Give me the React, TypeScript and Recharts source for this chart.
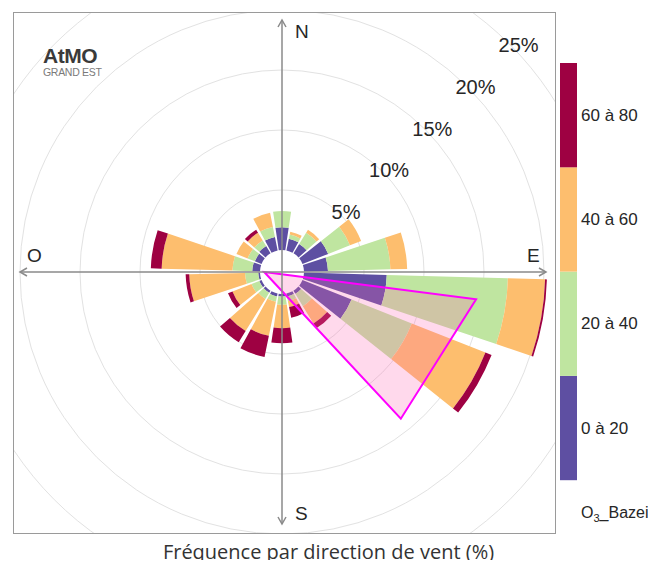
import {
  RadialBarChart,
  RadialBar,
  PolarGrid,
  PolarAngleAxis,
  PolarRadiusAxis,
} from "recharts";

// wind directions (degrees from north, clockwise), 20° sectors
const directions = [0, 20, 40, 60, 80, 100, 120, 140, 160, 180, 200, 220, 240, 260, 280, 300, 320, 340];

// frequency (%) per direction and O3 class
const o3_0_20 = [1.9, 1.0, 0.9, 2.3, 2.0, 6.9, 4.4, 0.3, 0.25, 0.2, 0.25, 0.2, 0.2, 0.15, 0.65, 0.6, 0.7, 1.15];
const o3_20_40 = [1.35, 0.35, 1.1, 1.95, 5.2, 10.1, 5.4, 1.2, 0.4, 0.7, 0.45, 0.6, 0.7, 1.1, 1.65, 0.65, 0.55, 0.85];
const o3_40_60 = [0, 0.25, 0.3, 1.0, 1.4, 3.1, 6.6, 1.7, 0.5, 1.95, 2.9, 3.15, 1.7, 4.65, 5.9, 1.0, 0.75, 1.2];
const o3_60_80 = [0, 0, 0, 0, 0, 0.15, 0.55, 0.45, 0.9, 1.25, 1.8, 1.1, 0.4, 0.3, 0.9, 0, 0.3, 0];

const classKeys = ["c0", "c1", "c2", "c3"];
const classLabels = ["0 à 20", "20 à 40", "40 à 60", "60 à 80"];
const classColors = ["#5e4fa2", "#bfe5a0", "#fdbe6e", "#9e0142"];

const ringTicks = [5, 10, 15, 20, 25];
const compass = ["N", "E", "S", "O"];

// highlighted sector (triangle): angle from north, frequency %
const zoneAngles = [270, 98, 141];
const zoneFreqs = [-0.35, 14.5, 13.9];

const rows = directions.map((d, i) => ({
  dir: d,
  c0: o3_0_20[i],
  c1: o3_20_40[i],
  c2: o3_40_60[i],
  c3: o3_60_80[i],
}));

const CHART_W = 541;
const CHART_H = 520;
const CX = 268;
const CY = 259;
const HOLE = 22;
const MAX_PCT = 25;
const PX_PER_PCT = 12;
const OUTER = HOLE + MAX_PCT * PX_PER_PCT;

function toXY(angle: number, pct: number) {
  const r = HOLE + pct * PX_PER_PCT;
  const a = (angle * Math.PI) / 180;
  return [CX + r * Math.sin(a), CY - r * Math.cos(a)];
}

const axisColor = "#8a8a8a";
const textColor = "#262626";
const labelFont = "'Liberation Sans', Arial, sans-serif";

function RingTick({ x, y, payload }: any) {
  return (
    <text
      x={x + 5}
      y={y - 3}
      textAnchor="middle"
      dominantBaseline="central"
      fontSize={20}
      fontFamily={labelFont}
      fill={textColor}
    >
      {payload.value}%
    </text>
  );
}

function Overlay() {
  const pts = zoneAngles.map((a, i) => toXY(a, zoneFreqs[i]).join(",")).join(" ");
  const left = 6;
  const right = 532;
  const top = 7;
  const bottom = 511;
  return (
    <svg
      width={CHART_W}
      height={CHART_H}
      style={{ position: "absolute", left: 0, top: 0, pointerEvents: "none" }}
    >
      <polygon points={pts} fill="#ff69b4" fillOpacity={0.25} stroke="#ff00ff" strokeWidth={2} />
      <g stroke={axisColor} strokeWidth={1.5} fill="none">
        <line x1={left} y1={CY} x2={right} y2={CY} />
        <line x1={CX} y1={top} x2={CX} y2={bottom} />
        <polyline points={`${right - 7},${CY - 4} ${right},${CY} ${right - 7},${CY + 4}`} />
        <polyline points={`${left + 7},${CY - 4} ${left},${CY} ${left + 7},${CY + 4}`} />
        <polyline points={`${CX - 4},${top + 7} ${CX},${top} ${CX + 4},${top + 7}`} />
        <polyline points={`${CX - 4},${bottom - 7} ${CX},${bottom} ${CX + 4},${bottom - 7}`} />
      </g>
      <g fontSize={19} fontFamily={labelFont} fill={textColor}>
        <text x={281} y={25}>{compass[0]}</text>
        <text x={513} y={249}>{compass[1]}</text>
        <text x={281} y={507}>{compass[2]}</text>
        <text x={13} y={249}>{compass[3]}</text>
      </g>
      <g fontFamily={labelFont}>
        <text x={29} y={50} fontSize={21} fontWeight={700} fill="#3a3a3a" letterSpacing={-0.5}>
          AtMO
        </text>
        <text x={29} y={63} fontSize={10.5} fill="#7a7a7a" letterSpacing={-0.3}>
          GRAND EST
        </text>
      </g>
    </svg>
  );
}

function ColorBar() {
  const segH = 104.3;
  const n = classLabels.length;
  return (
    <svg width={96} height={470} style={{ position: "absolute", left: 552, top: 55 }}>
      {classLabels.map((lab, i) => {
        const y = (n - 1 - i) * segH;
        return (
          <g key={lab}>
            <rect x={0} y={y} width={17} height={segH} fill={classColors[i]} />
            <text
              x={21}
              y={y + segH / 2}
              dominantBaseline="central"
              fontSize={17}
              fontFamily={labelFont}
              fill={textColor}
            >
              {lab}
            </text>
          </g>
        );
      })}
      <text x={21} y={455} fontSize={16} fontFamily={labelFont} fill={textColor}>
        O<tspan fontSize={11} dy={4}>3</tspan>
        <tspan dy={-4}>_Bazei</tspan>
      </text>
    </svg>
  );
}

export default function App() {
  return (
    <div style={{ position: "relative", width: 640, height: 552 }}>
      <div
        style={{
          position: "absolute",
          left: 5,
          top: 4,
          width: 543,
          height: 522,
          boxSizing: "border-box",
          border: "1px solid #9a9a9a",
          overflow: "hidden",
        }}
      >
        <RadialBarChart
          width={CHART_W}
          height={CHART_H}
          data={rows}
          layout="centric"
          cx={CX}
          cy={CY}
          innerRadius={HOLE}
          outerRadius={OUTER}
          startAngle={80}
          endAngle={-280}
          barCategoryGap="7%"
          margin={{ top: 0, right: 0, bottom: 0, left: 0 }}
        >
          <PolarGrid gridType="circle" radialLines={false} stroke="#e2e2e2" />
          <PolarAngleAxis dataKey="dir" type="category" tick={false} axisLine={false} tickLine={false} />
          <PolarRadiusAxis
            type="number"
            domain={[0, MAX_PCT]}
            ticks={ringTicks}
            angle={44}
            axisLine={false}
            tickLine={false}
            tick={<RingTick />}
          />
          {classKeys.map((k, i) => (
            <RadialBar
              key={k}
              dataKey={k}
              stackId="rose"
              fill={classColors[i]}
              isAnimationActive={false}
            />
          ))}
        </RadialBarChart>
        <Overlay />
      </div>
      <ColorBar />
      <div
        style={{
          position: "absolute",
          left: 0,
          width: 641,
          top: 530,
          textAlign: "center",
          fontFamily: "'Open Sans', sans-serif",
          fontSize: 20,
          color: "#333",
        }}
      >
        Fréquence par direction de vent (%)
      </div>
    </div>
  );
}
